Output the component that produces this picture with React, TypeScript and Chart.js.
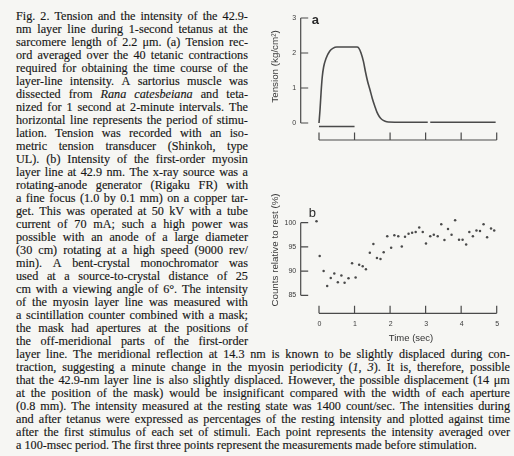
import React, { useEffect, useRef } from "react";
import { Chart, registerables } from "chart.js";
Chart.register(...registerables);

// ---------- data: panel a (tension) ----------
const tensionTime = [0, 0.03, 0.06, 0.09, 0.13, 0.2, 0.3, 0.4, 0.5, 1.07, 1.12, 1.18, 1.25, 1.31, 1.37, 1.44, 1.5, 1.57, 1.63, 1.7, 1.77, 1.86, 1.95, 3.06, 3.09, 3.13, 4.97];
const tensionValue = [0, 0.4, 0.9, 1.3, 1.6, 1.85, 2.05, 2.14, 2.17, 2.17, 2.14, 2.01, 1.76, 1.45, 1.18, 0.93, 0.7, 0.48, 0.31, 0.18, 0.1, 0.05, 0.03, 0.02, null, 0.02, 0.02];
const stimTime = [0, 1.0];
const stimValue = [-0.1, -0.1];
const tensionTicks = [0, 1, 2, 3];

// ---------- data: panel b (counts relative to rest) ----------
const countTime = [-0.27, -0.17, -0.07, 0.02, 0.13, 0.23, 0.33, 0.43, 0.53, 0.63, 0.72, 0.83, 0.93, 1.03, 1.13, 1.23, 1.32, 1.43, 1.53, 1.63, 1.73, 1.82, 1.92, 2.03, 2.12, 2.23, 2.33, 2.42, 2.52, 2.62, 2.72, 2.82, 2.92, 3.01, 3.13, 3.23, 3.34, 3.44, 3.53, 3.63, 3.73, 3.83, 3.94, 4.04, 4.14, 4.23, 4.33, 4.43, 4.53, 4.63, 4.73, 4.84, 4.93];
const countValue = [100.1, 99.3, 100.3, 93.1, 90.0, 86.9, 88.6, 89.5, 87.7, 89.1, 87.6, 88.5, 91.6, 88.7, 91.3, 91.0, 90.4, 93.8, 95.6, 92.7, 92.5, 93.9, 97.2, 94.8, 97.4, 97.2, 95.1, 97.1, 97.7, 97.9, 98.1, 99.0, 98.1, 95.7, 97.2, 97.5, 97.2, 99.7, 96.4, 98.7, 97.5, 100.5, 96.5, 96.5, 95.5, 98.1, 97.2, 98.4, 98.3, 99.7, 97.0, 98.8, 98.4];
const countTicks = [85, 90, 95, 100];
const timeTicks = [0, 1, 2, 3, 4, 5];
const timeTickLabels = ["0", "1", "2", "3", "4", "5"];

// ---------- caption text ----------
const columnLines = [
  "Fig. 2. Tension and the intensity of the 42.9-",
  "nm layer line during 1-second tetanus at the",
  "sarcomere length of 2.2 \u03bcm. (a) Tension rec-",
  "ord averaged over the 40 tetanic contractions",
  "required for obtaining the time course of the",
  "layer-line intensity. A sartorius muscle was",
  "dissected from _Rana catesbeiana_ and teta-",
  "nized for 1 second at 2-minute intervals. The",
  "horizontal line represents the period of stimu-",
  "lation. Tension was recorded with an iso-",
  "metric tension transducer (Shinkoh, type",
  "UL). (b) Intensity of the first-order myosin",
  "layer line at 42.9 nm. The x-ray source was a",
  "rotating-anode generator (Rigaku FR) with",
  "a fine focus (1.0 by 0.1 mm) on a copper tar-",
  "get. This was operated at 50 kV with a tube",
  "current of 70 mA; such a high power was",
  "possible with an anode of a large diameter",
  "(30 cm) rotating at a high speed (9000 rev/",
  "min). A bent-crystal monochromator was",
  "used at a source-to-crystal distance of 25",
  "cm with a viewing angle of 6\u00b0. The intensity",
  "of the myosin layer line was measured with",
  "a scintillation counter combined with a mask;",
  "the mask had apertures at the positions of",
  "the off-meridional parts of the first-order",
];
const fullLines = [
  "layer line. The meridional reflection at 14.3 nm is known to be slightly displaced during con-",
  "traction, suggesting a minute change in the myosin periodicity (_1_, _3_). It is, therefore, possible",
  "that the 42.9-nm layer line is also slightly displaced. However, the possible displacement (14 \u03bcm",
  "at the position of the mask) would be insignificant compared with the width of each aperture",
  "(0.8 mm). The intensity measured at the resting state was 1400 count/sec. The intensities during",
  "and after tetanus were expressed as percentages of the resting intensity and plotted against time",
  "after the first stimulus of each set of stimuli. Each point represents the intensity averaged over",
];
const lastLine = "a 100-msec period. The first three points represent the measurements made before stimulation.";

const INK = "#4a4a4a";
const TEXT = "#161616";
const BG = "#f6f6f3";
const SANS = '"Liberation Sans", Arial, sans-serif';
const LH = 13.0;
const TOP = 9.5;

type Seg = { t: string; i: boolean };
function parseWords(line: string): Seg[][] {
  const words: Seg[][] = [];
  let italic = false;
  for (const raw of line.split(" ")) {
    const segs: Seg[] = [];
    let cur = "";
    for (const ch of raw) {
      if (ch === "_") {
        if (cur) segs.push({ t: cur, i: italic });
        cur = "";
        italic = !italic;
      } else cur += ch;
    }
    if (cur) segs.push({ t: cur, i: italic });
    words.push(segs);
  }
  return words;
}

function Segs({ segs }: { segs: Seg[] }) {
  return (
    <>
      {segs.map((s, k) =>
        s.i ? <i key={k}>{s.t}</i> : <React.Fragment key={k}>{s.t}</React.Fragment>
      )}
    </>
  );
}

function JustLine({ text }: { text: string }) {
  const words = parseWords(text);
  return (
    <div style={{ display: "flex", justifyContent: "space-between", height: LH, whiteSpace: "pre" }}>
      {words.map((w, k) => (
        <span key={k}><Segs segs={w} /></span>
      ))}
    </div>
  );
}

function PlainLine({ text }: { text: string }) {
  const words = parseWords(text);
  return (
    <div style={{ height: LH, whiteSpace: "pre" }}>
      {words.map((w, k) => (
        <React.Fragment key={k}>
          {k > 0 ? " " : ""}
          <Segs segs={w} />
        </React.Fragment>
      ))}
    </div>
  );
}

const bracketAxes = {
  id: "bracketAxes",
  afterDraw(chart: any, _a: any, o: any) {
    const ctx = chart.ctx;
    const xs = chart.scales.x;
    const ys = chart.scales.y;
    const x0 = xs.getPixelForValue(o.xTicks[0]);
    const x1 = xs.getPixelForValue(o.xTicks[o.xTicks.length - 1]);
    const ax = x0 - o.yAxisGap;
    const yTop = ys.getPixelForValue(o.yTicks[o.yTicks.length - 1]);
    const yBot = ys.getPixelForValue(o.yTicks[0]);
    ctx.save();
    ctx.strokeStyle = INK;
    ctx.lineWidth = 1.2;
    ctx.beginPath();
    ctx.moveTo(ax, yTop);
    ctx.lineTo(ax, yBot);
    for (const v of o.yTicks) {
      const py = ys.getPixelForValue(v);
      ctx.moveTo(ax, py);
      ctx.lineTo(ax + 7.5, py);
    }
    const xl = yBot + o.xAxisGap;
    ctx.moveTo(x0, xl);
    ctx.lineTo(x1, xl);
    for (const v of o.xTicks) {
      const px = xs.getPixelForValue(v);
      ctx.moveTo(px, xl);
      ctx.lineTo(px, xl - 7.5);
    }
    ctx.stroke();

    ctx.fillStyle = "#3a3a3a";
    ctx.font = `7px ${SANS}`;
    ctx.textAlign = "right";
    ctx.textBaseline = "middle";
    for (const v of o.yTicks) {
      ctx.fillText(String(v), ax - 4.5, ys.getPixelForValue(v));
    }
    if (o.xLabels) {
      ctx.textAlign = "center";
      o.xTicks.forEach((v: number, k: number) => {
        ctx.fillText(o.xLabels[k], xs.getPixelForValue(v) + 0.5, xl + 10.5);
      });
    }
    if (o.xTitle) {
      ctx.font = `9.5px ${SANS}`;
      ctx.fillStyle = "#333";
      ctx.textAlign = "center";
      ctx.fillText(o.xTitle, o.xTitlePos[0], o.xTitlePos[1]);
    }
    ctx.fillStyle = "#2a2a2a";
    ctx.font = o.letterFont;
    ctx.textAlign = "left";
    ctx.textBaseline = "alphabetic";
    ctx.fillText(o.letter, ax + o.letterPos[0], o.letterPos[1]);

    ctx.save();
    ctx.translate(o.yTitlePos[0], o.yTitlePos[1]);
    ctx.rotate(-Math.PI / 2);
    ctx.font = `9.8px ${SANS}`;
    ctx.fillStyle = "#3a3a3a";
    ctx.textAlign = "center";
    ctx.textBaseline = "middle";
    ctx.fillText(o.yTitle, 0, 0);
    ctx.restore();
    ctx.restore();
  },
};

function baseOptions(padding: any, xmin: number, xmax: number, ymin: number, ymax: number, axes: any) {
  return {
    animation: false,
    responsive: false,
    devicePixelRatio: 1,
    events: [],
    layout: { padding },
    scales: {
      x: { type: "linear", min: xmin, max: xmax, display: false },
      y: { type: "linear", min: ymin, max: ymax, display: false },
    },
    plugins: { legend: { display: false }, tooltip: { enabled: false }, bracketAxes: axes },
  };
}

export default function App() {
  const refA = useRef<HTMLCanvasElement>(null);
  const refB = useRef<HTMLCanvasElement>(null);

  useEffect(() => {
    const a = new Chart(refA.current!, {
      type: "line",
      data: {
        datasets: [
          {
            data: tensionTime.map((t, i) => ({ x: t, y: tensionValue[i] })),
            borderColor: INK,
            borderWidth: 1.6,
            pointRadius: 0,
            cubicInterpolationMode: "monotone",
            spanGaps: false,
            clip: false,
          },
          {
            data: stimTime.map((t, i) => ({ x: t, y: stimValue[i] })),
            borderColor: INK,
            borderWidth: 1.5,
            pointRadius: 0,
            clip: false,
          },
        ],
      },
      options: baseOptions({ left: 57, right: 17.3, top: 18, bottom: 37 }, 0, 5, 0, 3, {
        xTicks: timeTicks,
        yTicks: tensionTicks,
        yAxisGap: 18.3,
        xAxisGap: 17,
        letter: "a",
        letterFont: `bold 13px ${SANS}`,
        letterPos: [11, 23.5],
        yTitle: "Tension (kg/cm\u00b2)",
        yTitlePos: [13, 66.5],
      }) as any,
      plugins: [bracketAxes],
    } as any);

    const b = new Chart(refB.current!, {
      type: "scatter",
      data: {
        datasets: [
          {
            data: countTime.map((t, i) => ({ x: t, y: countValue[i] })),
            backgroundColor: INK,
            borderWidth: 0,
            pointRadius: 1.25,
            clip: false,
          },
        ],
      },
      options: baseOptions({ left: 57, right: 17.3, top: 62.7, bottom: 54.7 }, 0, 5, 85, 100, {
        xTicks: timeTicks,
        xLabels: timeTickLabels,
        yTicks: countTicks,
        yAxisGap: 18.3,
        xAxisGap: 18,
        xTitle: "Time (sec)",
        xTitlePos: [149, 178],
        letter: "b",
        letterFont: `13px ${SANS}`,
        letterPos: [8, 56.5],
        yTitle: "Counts relative to rest (%)",
        yTitlePos: [13, 90],
      }) as any,
      plugins: [bracketAxes],
    } as any);

    return () => {
      a.destroy();
      b.destroy();
    };
  }, []);

  const textStyle: React.CSSProperties = {
    position: "absolute",
    left: 16,
    fontFamily: '"Liberation Serif", "Times New Roman", serif',
    fontSize: 12.2,
    lineHeight: `${LH}px`,
    color: TEXT,
    WebkitTextStroke: "0.15px #161616",
  };

  return (
    <div
      style={{
        position: "absolute",
        left: 0,
        top: 0,
        width: 514,
        height: 456,
        background: BG,
        overflow: "hidden",
      }}
    >
      <div style={{ ...textStyle, top: TOP, width: 232 }}>
        {columnLines.map((l, k) => (
          <JustLine key={k} text={l} />
        ))}
      </div>
      <div style={{ ...textStyle, top: TOP + columnLines.length * LH, width: 494 }}>
        {fullLines.map((l, k) => (
          <JustLine key={k} text={l} />
        ))}
        <PlainLine text={lastLine} />
      </div>
      <canvas
        ref={refA}
        width={252}
        height={160}
        style={{ position: "absolute", left: 262, top: 0, width: 252, height: 160 }}
      />
      <canvas
        ref={refB}
        width={252}
        height={190}
        style={{ position: "absolute", left: 262, top: 160, width: 252, height: 190 }}
      />
    </div>
  );
}
